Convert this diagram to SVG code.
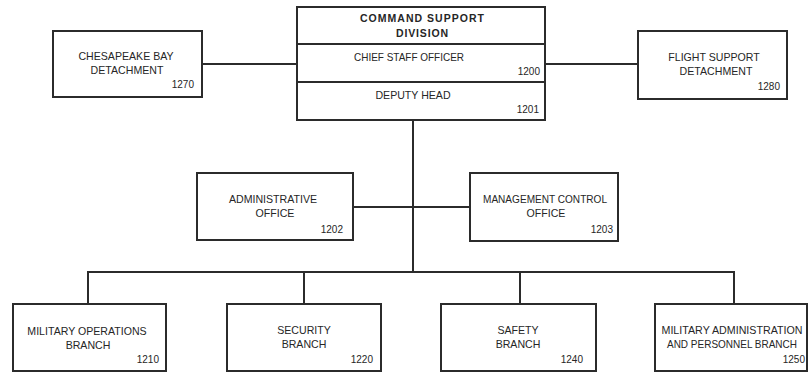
<svg xmlns="http://www.w3.org/2000/svg" width="810" height="373" viewBox="0 0 810 373">
  <style>
    .box { fill: #fff; stroke: #2b2b2b; stroke-width: 2; }
    .line { fill: none; stroke: #2b2b2b; stroke-width: 2; }
    text { font-family: "Liberation Sans", Arial, sans-serif; font-size: 10.6px; fill: #262626; }
    .c { text-anchor: middle; }
    .r { text-anchor: end; font-size: 10px; }
    .b { font-weight: bold; font-size: 10.5px; }
  </style>
  <rect width="810" height="373" fill="#fff"/>

  <!-- connectors -->
  <g id="connectors">
    <line class="line" x1="202" y1="64" x2="297" y2="64"/>
    <line class="line" x1="545" y1="64" x2="638" y2="64"/>
    <line class="line" x1="413" y1="120" x2="413" y2="272"/>
    <line class="line" x1="353" y1="207" x2="470" y2="207"/>
    <polyline class="line" points="88,304 88,272 734,272 734,304"/>
    <line class="line" x1="304" y1="272" x2="304" y2="304"/>
    <line class="line" x1="520" y1="272" x2="520" y2="304"/>
  </g>

  <!-- head of division -->
  <g id="command-support">
    <rect class="box" x="297" y="7" width="248" height="113"/>
    <line class="line" x1="297" y1="44" x2="545" y2="44"/>
    <line class="line" x1="297" y1="82" x2="545" y2="82"/>
    <text class="c b" x="422" y="22" textLength="124" lengthAdjust="spacing">COMMAND SUPPORT</text>
    <text class="c b" x="422" y="37" textLength="52" lengthAdjust="spacing">DIVISION</text>
    <text class="c" x="409" y="61" textLength="110" lengthAdjust="spacingAndGlyphs">CHIEF STAFF OFFICER</text>
    <text class="r" x="540" y="75">1200</text>
    <text class="c" x="413" y="99">DEPUTY HEAD</text>
    <text class="r" x="539" y="113">1201</text>
  </g>

  <g id="chesapeake">
    <rect class="box" x="53" y="31" width="149" height="66"/>
    <text class="c" x="126" y="60">CHESAPEAKE BAY</text>
    <text class="c" x="127" y="74">DETACHMENT</text>
    <text class="r" x="194" y="88">1270</text>
  </g>

  <g id="flight-support">
    <rect class="box" x="638" y="31" width="149" height="68"/>
    <text class="c" x="714" y="61">FLIGHT SUPPORT</text>
    <text class="c" x="716" y="75">DETACHMENT</text>
    <text class="r" x="780" y="90">1280</text>
  </g>

  <g id="administrative">
    <rect class="box" x="197" y="173" width="156" height="67"/>
    <text class="c" x="273" y="203">ADMINISTRATIVE</text>
    <text class="c" x="275" y="217">OFFICE</text>
    <text class="r" x="343" y="233">1202</text>
  </g>

  <g id="management-control">
    <rect class="box" x="470" y="173" width="148" height="68"/>
    <text class="c" x="545" y="203" textLength="124" lengthAdjust="spacingAndGlyphs">MANAGEMENT CONTROL</text>
    <text class="c" x="546" y="217">OFFICE</text>
    <text class="r" x="613" y="233">1203</text>
  </g>

  <g id="military-operations">
    <rect class="box" x="13" y="304" width="153" height="67"/>
    <text class="c" x="87" y="335">MILITARY OPERATIONS</text>
    <text class="c" x="88" y="349">BRANCH</text>
    <text class="r" x="159" y="363">1210</text>
  </g>

  <g id="security">
    <rect class="box" x="227" y="304" width="154" height="67"/>
    <text class="c" x="304" y="334">SECURITY</text>
    <text class="c" x="304" y="348">BRANCH</text>
    <text class="r" x="373" y="363">1220</text>
  </g>

  <g id="safety">
    <rect class="box" x="441" y="304" width="155" height="67"/>
    <text class="c" x="518" y="334">SAFETY</text>
    <text class="c" x="518" y="348">BRANCH</text>
    <text class="r" x="583" y="363">1240</text>
  </g>

  <g id="military-administration">
    <rect class="box" x="655" y="304" width="152" height="67"/>
    <text class="c" x="732" y="334" textLength="141" lengthAdjust="spacingAndGlyphs">MILITARY ADMINISTRATION</text>
    <text class="c" x="732" y="348" textLength="130" lengthAdjust="spacingAndGlyphs">AND PERSONNEL BRANCH</text>
    <text class="r" x="805" y="363">1250</text>
  </g>
</svg>
